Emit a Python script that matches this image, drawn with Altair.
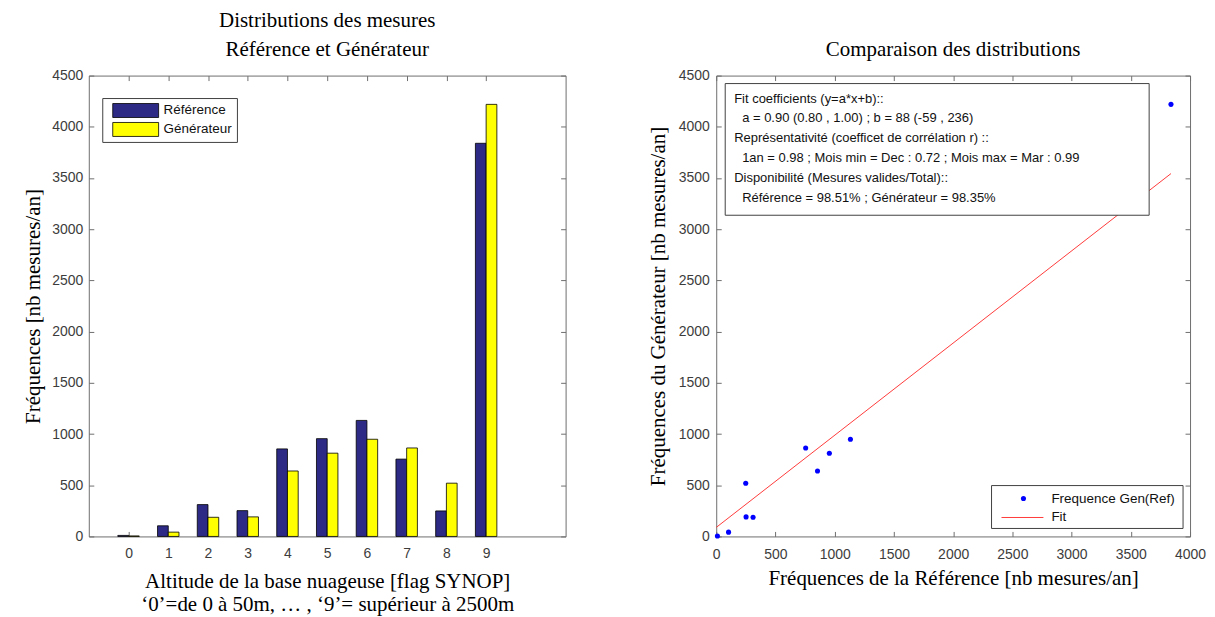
import altair as alt
import pandas as pd

# ---------------- data ----------------
categories = [0, 1, 2, 3, 4, 5, 6, 7, 8, 9]
reference = [10, 104, 311, 252, 855, 955, 1133, 755, 249, 3839]
generateur = [5, 42, 187, 191, 639, 813, 949, 864, 520, 4219]
series_names = ["Référence", "Générateur"]
series_colors = ["#2c2a85", "#ffff00"]
fit_a = 0.90
fit_b = 88
annotation_lines = [
    "Fit coefficients (y=a*x+b)::",
    "a = 0.90 (0.80 , 1.00) ; b = 88 (-59 , 236)",
    "Représentativité (coefficet de corrélation r) ::",
    "1an = 0.98 ; Mois min = Dec : 0.72 ; Mois max = Mar : 0.99",
    "Disponibilité (Mesures valides/Total)::",
    "Référence = 98.51% ; Générateur = 98.35%",
]
annotation_indent = [False, True, False, True, False, True]
left_title = ["Distributions des mesures", "Référence et Générateur"]
right_title = "Comparaison des distributions"
left_xlabel = ["Altitude de la base nuageuse [flag SYNOP]",
               "\u20180\u2019=de 0 à 50m, \u2026 , \u20189\u2019= supérieur à 2500m"]
left_ylabel = "Fréquences [nb mesures/an]"
right_xlabel = "Fréquences de la Référence [nb mesures/an]"
right_ylabel = "Fréquences du Générateur [nb mesures/an]"
scatter_legend_labels = ["Frequence Gen(Ref)", "Fit"]
y_ticks = [0, 500, 1000, 1500, 2000, 2500, 3000, 3500, 4000, 4500]
x_ticks_right = [0, 500, 1000, 1500, 2000, 2500, 3000, 3500, 4000]

# ---------------- styles ----------------
FRAME = "#6e6e6e"
LABEL = "#3c3c3c"
SERIF = "Liberation Serif"
SANS = "Liberation Sans"
BAR_W = 0.27

bar_df = pd.DataFrame({
    "cat": categories + categories,
    "value": reference + generateur,
    "series": [series_names[0]] * len(categories) + [series_names[1]] * len(categories),
    "idx": [0] * len(categories) + [1] * len(categories),
})
scatter_df = pd.DataFrame({"ref": reference, "gen": generateur})
fit_df = pd.DataFrame({"xf": [0, max(reference)]})
one = pd.DataFrame({"k": [0]})


def make_axis(orient, values, labels=True, title=None, label_pad=6,
              title_pad=8, title_lh=None):
    kw = dict(orient=orient, values=values, labels=labels, offset=-5,
              tickSize=5, tickWidth=1, tickColor=FRAME, domain=False,
              grid=False, labelFont=SANS, labelFontSize=14, labelColor=LABEL,
              labelPadding=label_pad, labelFlush=False, labelOverlap=False,
              format="d", title=title)
    if title is not None:
        kw.update(titleFont=SERIF, titleFontSize=21, titleFontWeight="normal",
                  titleColor="black", titlePadding=title_pad)
    if title_lh is not None:
        kw["titleLineHeight"] = title_lh
    return alt.Axis(**kw)


def box(x1, x2, y1, y2):
    return alt.Chart(one).mark_rect(fill="white", stroke="#404040", strokeWidth=1).encode(
        x=alt.value(x1), x2=alt.value(x2), y=alt.value(y1), y2=alt.value(y2))


def label(txt, x, y, size=13.5):
    return alt.Chart(one).mark_text(align="left", baseline="middle", font=SANS,
                                    fontSize=size, color="#111111").encode(
        x=alt.value(x), y=alt.value(y), text=alt.value(txt))


# ---------------- left chart ----------------
xs_left = alt.Scale(domain=[-1, 11], nice=False, zero=False)
ys = alt.Scale(domain=[0, 4500], nice=False)

bars = alt.Chart(bar_df).transform_calculate(
    x0=f"datum.cat - {BAR_W} + {BAR_W} * datum.idx",
    x1=f"datum.cat + {BAR_W} * datum.idx",
).mark_bar(stroke="black", strokeWidth=0.8).encode(
    x=alt.X("x0:Q", scale=xs_left,
            axis=make_axis("bottom", categories, title=left_xlabel,
                           label_pad=10, title_pad=10, title_lh=23)),
    x2="x1:Q",
    y=alt.Y("value:Q", scale=ys,
            axis=make_axis("left", y_ticks, title=left_ylabel, label_pad=6,
                           title_pad=8)),
    y2=alt.datum(0),
    color=alt.Color("series:N", scale=alt.Scale(domain=series_names, range=series_colors),
                    legend=None),
)

mirror_left = alt.Chart(bar_df).mark_point(opacity=0).encode(
    x=alt.X("cat:Q", scale=xs_left, axis=make_axis("top", categories, labels=False)),
    y=alt.Y("value:Q", scale=ys, axis=make_axis("right", y_ticks, labels=False)),
)

legend_left = [
    box(14, 149, 23, 67),
    alt.Chart(one).mark_rect(fill=series_colors[0], stroke="black", strokeWidth=0.8).encode(
        x=alt.value(24), x2=alt.value(70), y=alt.value(28), y2=alt.value(42)),
    alt.Chart(one).mark_rect(fill=series_colors[1], stroke="black", strokeWidth=0.8).encode(
        x=alt.value(24), x2=alt.value(70), y=alt.value(47), y2=alt.value(61)),
    label(series_names[0], 75, 35),
    label(series_names[1], 75, 54),
]

left = alt.layer(bars, mirror_left, *legend_left).resolve_axis(
    x="independent", y="independent"
).properties(
    width=478, height=462,
    title=alt.TitleParams(left_title, font=SERIF, fontSize=21, fontWeight="normal",
                          color="black", lineHeight=29, anchor="middle", offset=9),
)

# ---------------- right chart ----------------
xs_right = alt.Scale(domain=[0, 4000], nice=False)

points = alt.Chart(scatter_df).mark_circle(color="#0000ff", size=26, opacity=1).encode(
    x=alt.X("ref:Q", scale=xs_right,
            axis=make_axis("bottom", x_ticks_right, title=right_xlabel,
                           label_pad=11, title_pad=6)),
    y=alt.Y("gen:Q", scale=ys,
            axis=make_axis("left", y_ticks, title=right_ylabel, label_pad=7,
                           title_pad=10)),
)

fit_line = alt.Chart(fit_df).transform_calculate(
    yf=f"{fit_a} * datum.xf + {fit_b}"
).mark_line(color="#ff3b3b", strokeWidth=1).encode(
    x=alt.X("xf:Q", scale=xs_right, axis=None),
    y=alt.Y("yf:Q", scale=ys, axis=None),
)

mirror_right = alt.Chart(scatter_df).mark_point(opacity=0).encode(
    x=alt.X("ref:Q", scale=xs_right, axis=make_axis("top", x_ticks_right, labels=False)),
    y=alt.Y("gen:Q", scale=ys, axis=make_axis("right", y_ticks, labels=False)),
)

annot = [box(9, 434, 8, 140)]
for i, (line, ind) in enumerate(zip(annotation_lines, annotation_indent)):
    annot.append(label(line, 26 if ind else 18, 23 + 20 * i, size=13))

legend_right = [
    box(276, 468, 411, 454),
    alt.Chart(one).mark_circle(color="#0000ff", size=26, opacity=1).encode(
        x=alt.value(308), y=alt.value(424)),
    alt.Chart(one).mark_rule(color="#ff3b3b", strokeWidth=1).encode(
        x=alt.value(286), x2=alt.value(328), y=alt.value(443)),
    label(scatter_legend_labels[0], 336, 424),
    label(scatter_legend_labels[1], 336, 443),
]

right = alt.layer(points, fit_line, mirror_right, *annot, *legend_right).resolve_axis(
    x="independent", y="independent"
).properties(
    width=475, height=462,
    title=alt.TitleParams(right_title, font=SERIF, fontSize=21, fontWeight="normal",
                          color="black", anchor="middle", offset=9),
)

chart = alt.hconcat(left, right, spacing=151, bounds="flush").configure_view(
    stroke=FRAME, strokeWidth=1
).properties(
    padding={"left": 14, "top": 0, "right": 0, "bottom": 0},
    background="white",
)

chart.save("out.html", embed_options={"renderer": "svg", "actions": False})
